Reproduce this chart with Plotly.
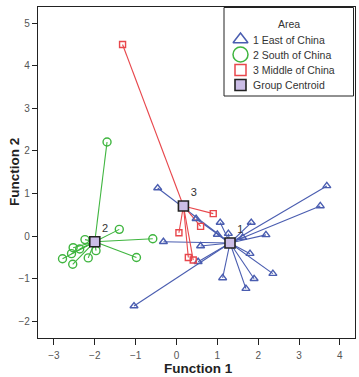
import plotly.graph_objects as go

# Group 1: East of China
g1_x = [-0.46, 0.48, 1.07, 1.83, 3.68, 3.52, 2.19, 1.27, 1.62, 1.00, -0.32, 0.59, 0.53, 1.80, 2.36, 1.90, 1.13, 1.70, -1.04]
g1_y = [1.13, 0.41, 0.32, 0.32, 1.18, 0.71, 0.03, 0.06, -0.03, 0.04, -0.13, -0.23, -0.60, -0.41, -0.88, -1.00, -0.98, -1.23, -1.64]
# Group 2: South of China
g2_x = [-1.70, -1.40, -0.58, -0.98, -2.24, -1.97, -2.16, -2.53, -2.37, -2.57, -2.79, -2.54]
g2_y = [2.21, 0.16, -0.06, -0.50, -0.08, -0.34, -0.51, -0.27, -0.30, -0.41, -0.53, -0.66]
# Group 3: Middle of China
g3_x = [-1.32, 0.90, 0.59, 0.06, 0.29, 0.41]
g3_y = [4.50, 0.53, 0.23, 0.08, -0.50, -0.56]

centroid_labels = ["1", "2", "3"]
centroid_x = [1.31, -2.00, 0.17]
centroid_y = [-0.16, -0.13, 0.71]

legend_title = "Area"
group_names = ["1 East of China", "2 South of China", "3 Middle of China"]
centroid_name = "Group Centroid"
x_title = "Function 1"
y_title = "Function 2"
x_ticks = [-3, -2, -1, 0, 1, 2, 3, 4]
y_ticks = [-2, -1, 0, 1, 2, 3, 4, 5]

colors = ["#4a5db0", "#3fb53f", "#e8474c"]
symbols = ["triangle-up-open", "circle-open", "square-open"]
sizes = [7, 8, 6]
centroid_fill = "#cbbde6"

groups = [(g1_x, g1_y), (g2_x, g2_y), (g3_x, g3_y)]

fig = go.Figure()

# connecting lines
for i, (gx, gy) in enumerate(groups):
    lx, ly = [], []
    for x, y in zip(gx, gy):
        lx += [centroid_x[i], x, None]
        ly += [centroid_y[i], y, None]
    fig.add_trace(go.Scatter(x=lx, y=ly, mode="lines",
                             line=dict(color=colors[i], width=1.1),
                             showlegend=False, hoverinfo="skip"))

# points
for i, (gx, gy) in enumerate(groups):
    fig.add_trace(go.Scatter(x=gx, y=gy, mode="markers", name=group_names[i],
                             marker=dict(symbol=symbols[i], size=sizes[i],
                                         color=colors[i], line=dict(width=1.4, color=colors[i])),
                             showlegend=False))

# centroids
fig.add_trace(go.Scatter(x=centroid_x, y=centroid_y, mode="markers+text",
                         text=centroid_labels, textposition="top right",
                         textfont=dict(size=11, color="#333"), name=centroid_name,
                         marker=dict(symbol="square", size=10, color=centroid_fill,
                                     line=dict(width=1.6, color="#222")),
                         showlegend=False))

# hand-built legend on a pixel-coordinate overlay axis
leg_syms = symbols + ["square"]
leg_cols = colors + [centroid_fill]
leg_line = colors + ["#222"]
leg_sizes = [13, 15, 11, 11]
leg_names = group_names + [centroid_name]
leg_y = [39.5, 54.5, 70, 85]
for i in range(4):
    fig.add_trace(go.Scatter(x=[240.5], y=[leg_y[i]], xaxis="x2", yaxis="y2",
                             mode="markers", showlegend=False, hoverinfo="skip",
                             marker=dict(symbol=leg_syms[i], size=leg_sizes[i],
                                         color=leg_cols[i],
                                         line=dict(width=1.5 if i < 3 else 1.6, color=leg_line[i]))))
    fig.add_annotation(x=251, y=leg_y[i], xref="x2", yref="y2", text=leg_names[i],
                       showarrow=False, xanchor="left", yanchor="middle",
                       font=dict(size=10.5, color="#333"))
fig.add_annotation(x=288.5, y=24, xref="x2", yref="y2", text=legend_title,
                   showarrow=False, xanchor="center", yanchor="middle",
                   font=dict(size=10.5, color="#333"))
fig.add_shape(type="rect", x0=224, x1=353.5, y0=7.5, y1=96, xref="x2", yref="y2",
              line=dict(color="#222", width=1), fillcolor="rgba(255,255,255,0)", layer="above")

# axis titles placed as annotations
fig.add_annotation(x=(198 - 38) / 317, y=(338 - 376.5) / 331, xref="paper", yref="paper",
                   text="<b>" + x_title + "</b>", showarrow=False, xanchor="center", yanchor="bottom",
                   borderpad=0, font=dict(size=13.5, color="#222"))
fig.add_annotation(x=(14 - 38) / 317, y=(338 - 172) / 331, xref="paper", yref="paper",
                   text="<b>" + y_title + "</b>", showarrow=False, xanchor="center", yanchor="middle",
                   textangle=-90, font=dict(size=13.5, color="#222"))

fig.update_layout(
    width=359, height=377,
    margin=dict(l=38, r=4, t=7, b=39),
    paper_bgcolor="white", plot_bgcolor="white",
    font=dict(family="Liberation Sans, Arial, sans-serif", size=10, color="#555"),
    showlegend=False,
    xaxis2=dict(overlaying="x", range=[38, 355], visible=False, fixedrange=True),
    yaxis2=dict(overlaying="y", range=[338, 7], visible=False, fixedrange=True),
)
fig.layout.xaxis.update(range=[-3.39, 4.37], tickvals=x_ticks, automargin=False,
                        showgrid=False, zeroline=False, showline=True, linecolor="#222",
                        linewidth=1.2, mirror=True, ticks="outside", ticklen=6, tickcolor="#222",
                        ticklabelstandoff=2)
fig.layout.yaxis.update(range=[-2.39, 5.38], tickvals=y_ticks, automargin=False,
                        showgrid=False, zeroline=False, showline=True, linecolor="#222",
                        linewidth=1.2, mirror=True, ticks="outside", ticklen=5, tickcolor="#222")

fig.write_html("out.html")
